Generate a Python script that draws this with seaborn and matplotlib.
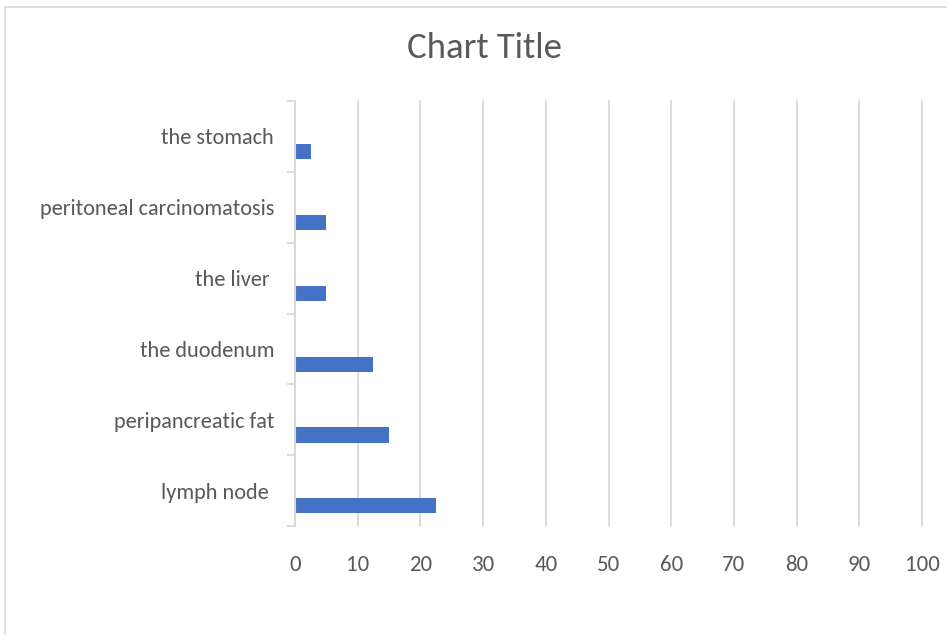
import matplotlib
matplotlib.use("Agg")
import matplotlib.pyplot as plt
import seaborn as sns
import pandas as pd
from matplotlib.patches import Rectangle

categories = ["the stomach", "peritoneal carcinomatosis", "the liver ",
              "the duodenum", "peripancreatic fat", "lymph node "]
values = [2.5, 5, 5, 12.5, 15, 22.5]
series_names = ["Series3", "Series2", "Series1"]
x_ticks = [0, 10, 20, 30, 40, 50, 60, 70, 80, 90, 100]
title = "Chart Title"

sns.set_theme(style="white")
plt.rcParams['font.family'] = ['Carlito', 'Liberation Sans', 'DejaVu Sans']

rows = []
for c, v in zip(categories, values):
    rows.append({"cat": c, "series": "Series3", "val": 0.0})
    rows.append({"cat": c, "series": "Series2", "val": 0.0})
    rows.append({"cat": c, "series": "Series1", "val": v})
df = pd.DataFrame(rows)

fig = plt.figure(figsize=(9.47, 6.35), dpi=100)
ax = fig.add_axes([295/947, 1-526/635, (922-295)/947, (526-101)/635])

text_color = "#595959"
grid_color = "#d9d9d9"

sns.barplot(data=df, y="cat", x="val", hue="series", hue_order=series_names,
            order=categories, orient="h", width=0.645, saturation=1,
            palette=["#A5A5A5", "#ED7D31", "#4472C4"], linewidth=0,
            errorbar=None, legend=False, ax=ax, zorder=3)

ax.set_xlim(0, 100)
ax.set_ylim(5.5, -0.5)
ax.set_xticks(x_ticks)
ax.set_xticklabels([str(t) for t in x_ticks])
ax.set_xlabel("")
ax.set_ylabel("")

for t in x_ticks[1:]:
    ax.axvline(t, color=grid_color, linewidth=1.3, zorder=1, clip_on=False)

for s in ["top", "right", "bottom"]:
    ax.spines[s].set_visible(False)
ax.spines["left"].set_visible(True)
ax.spines["left"].set_color(grid_color)
ax.spines["left"].set_linewidth(1.5)
ax.spines["left"].set_zorder(4)

ax.tick_params(axis="x", length=0, pad=21, labelsize=16.5, labelcolor=text_color)
ax.tick_params(axis="y", which="major", left=False, length=0, pad=15, labelsize=16, labelcolor=text_color)
ax.set_yticks([i - 0.5 for i in range(len(categories) + 1)], minor=True)
ax.tick_params(axis="y", which="minor", left=True, length=5.5, width=1.3, color=grid_color, direction="out")

fig.text(484/947, 1-48/635, title, ha="center", va="center", fontsize=26.5, color=text_color)

fig.patches.append(Rectangle((4.5/947, -0.1), 1.2, 1.1 - 7/635, transform=fig.transFigure,
                             fill=False, edgecolor=grid_color, linewidth=1.2))

fig.savefig("out.png", dpi=100, facecolor="white")
